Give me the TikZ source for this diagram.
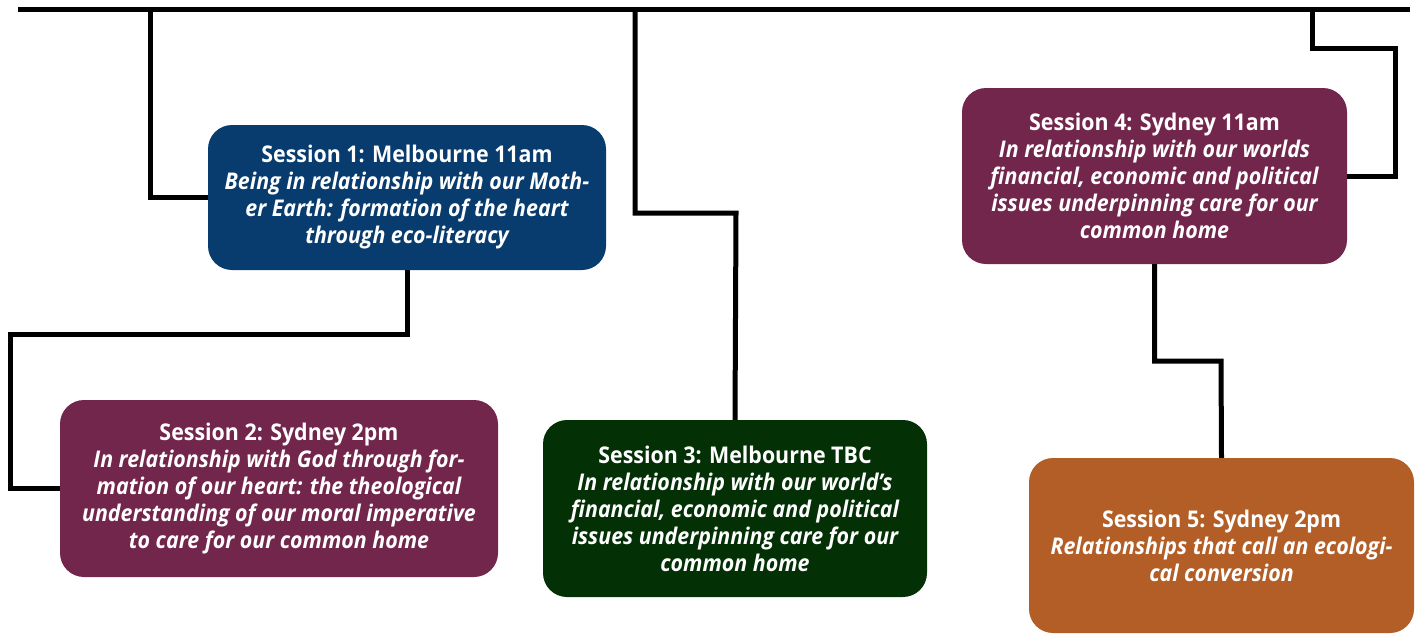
\documentclass[tikz,border=0pt]{standalone}
\usepackage{fontspec}
\setmainfont{Open Sans}[FakeStretch=0.93]
\definecolor{mblue}{RGB}{8,59,110}
\definecolor{maroon}{RGB}{114,38,75}
\definecolor{dgreen}{RGB}{4,48,5}
\definecolor{rust}{RGB}{178,94,38}
\begin{document}
\begin{tikzpicture}[x=1pt, y=-1pt,
    session/.style={rounded corners=24pt, text=white, align=center, inner sep=0pt,
        font=\bfseries\fontsize{23}{27}\selectfont},
    link/.style={line width=5pt}]
    \useasboundingbox (0,0) rectangle (1421,633);
    % sessions
    \node[session, fill=mblue, minimum width=398pt, minimum height=145pt] (s1) at (407,197.5)
        {Session 1: Melbourne 11am\\ \itshape Being in relationship with our Moth-\\ \itshape er Earth: formation of the heart\\ \itshape through eco-literacy};
    \node[session, fill=maroon, minimum width=438pt, minimum height=177pt] (s2) at (279,488.5)
        {Session 2: Sydney 2pm\\ \itshape In relationship with God through for-\\ \itshape mation of our heart: the theological\\ \itshape understanding of our moral imperative\\ \itshape to care for our common home};
    \node[session, fill=dgreen, minimum width=384pt, minimum height=177pt] (s3) at (735,508.5)
        {Session 3: Melbourne TBC\\ \itshape In relationship with our world’s\\ \itshape financial, economic and political\\ \itshape issues underpinning care for our\\ \itshape common home};
    \node[session, fill=maroon, minimum width=385pt, minimum height=176pt] (s4) at (1154.5,176)
        {Session 4: Sydney 11am\\ \itshape In relationship with our worlds\\ \itshape financial, economic and political\\ \itshape issues underpinning care for our\\ \itshape common home};
    \node[session, fill=rust, minimum width=385pt, minimum height=175pt] (s5) at (1221.5,545.5)
        {Session 5: Sydney 2pm\\ \itshape Relationships that call an ecologi-\\ \itshape cal conversion};
    % top bar and branch points
    \coordinate (tl) at (18,9);
    \coordinate (tr) at (1410,9);
    \coordinate (t1) at (150,9);
    \coordinate (t3) at (635,9);
    \coordinate (t4) at (1312,9);
    \draw[link] (tl) -- (tr);
    % corners
    \coordinate (k2) at (10,334);
    \coordinate (k3) at (736,213);
    \coordinate (k4) at (1395,48);
    \coordinate (k5) at (1221,361);
    % connectors
    \draw[link] (t1) |- (s1.west);
    \draw[link] (s1.south) |- (k2) |- (s2.west);
    \draw[link] (t3) |- (k3) -- (s3.north);
    \draw[link] (t4) |- (k4) |- (s4.east);
    \draw[link] (s4.south) |- (k5) -- (s5.north);
\end{tikzpicture}
\end{document}
